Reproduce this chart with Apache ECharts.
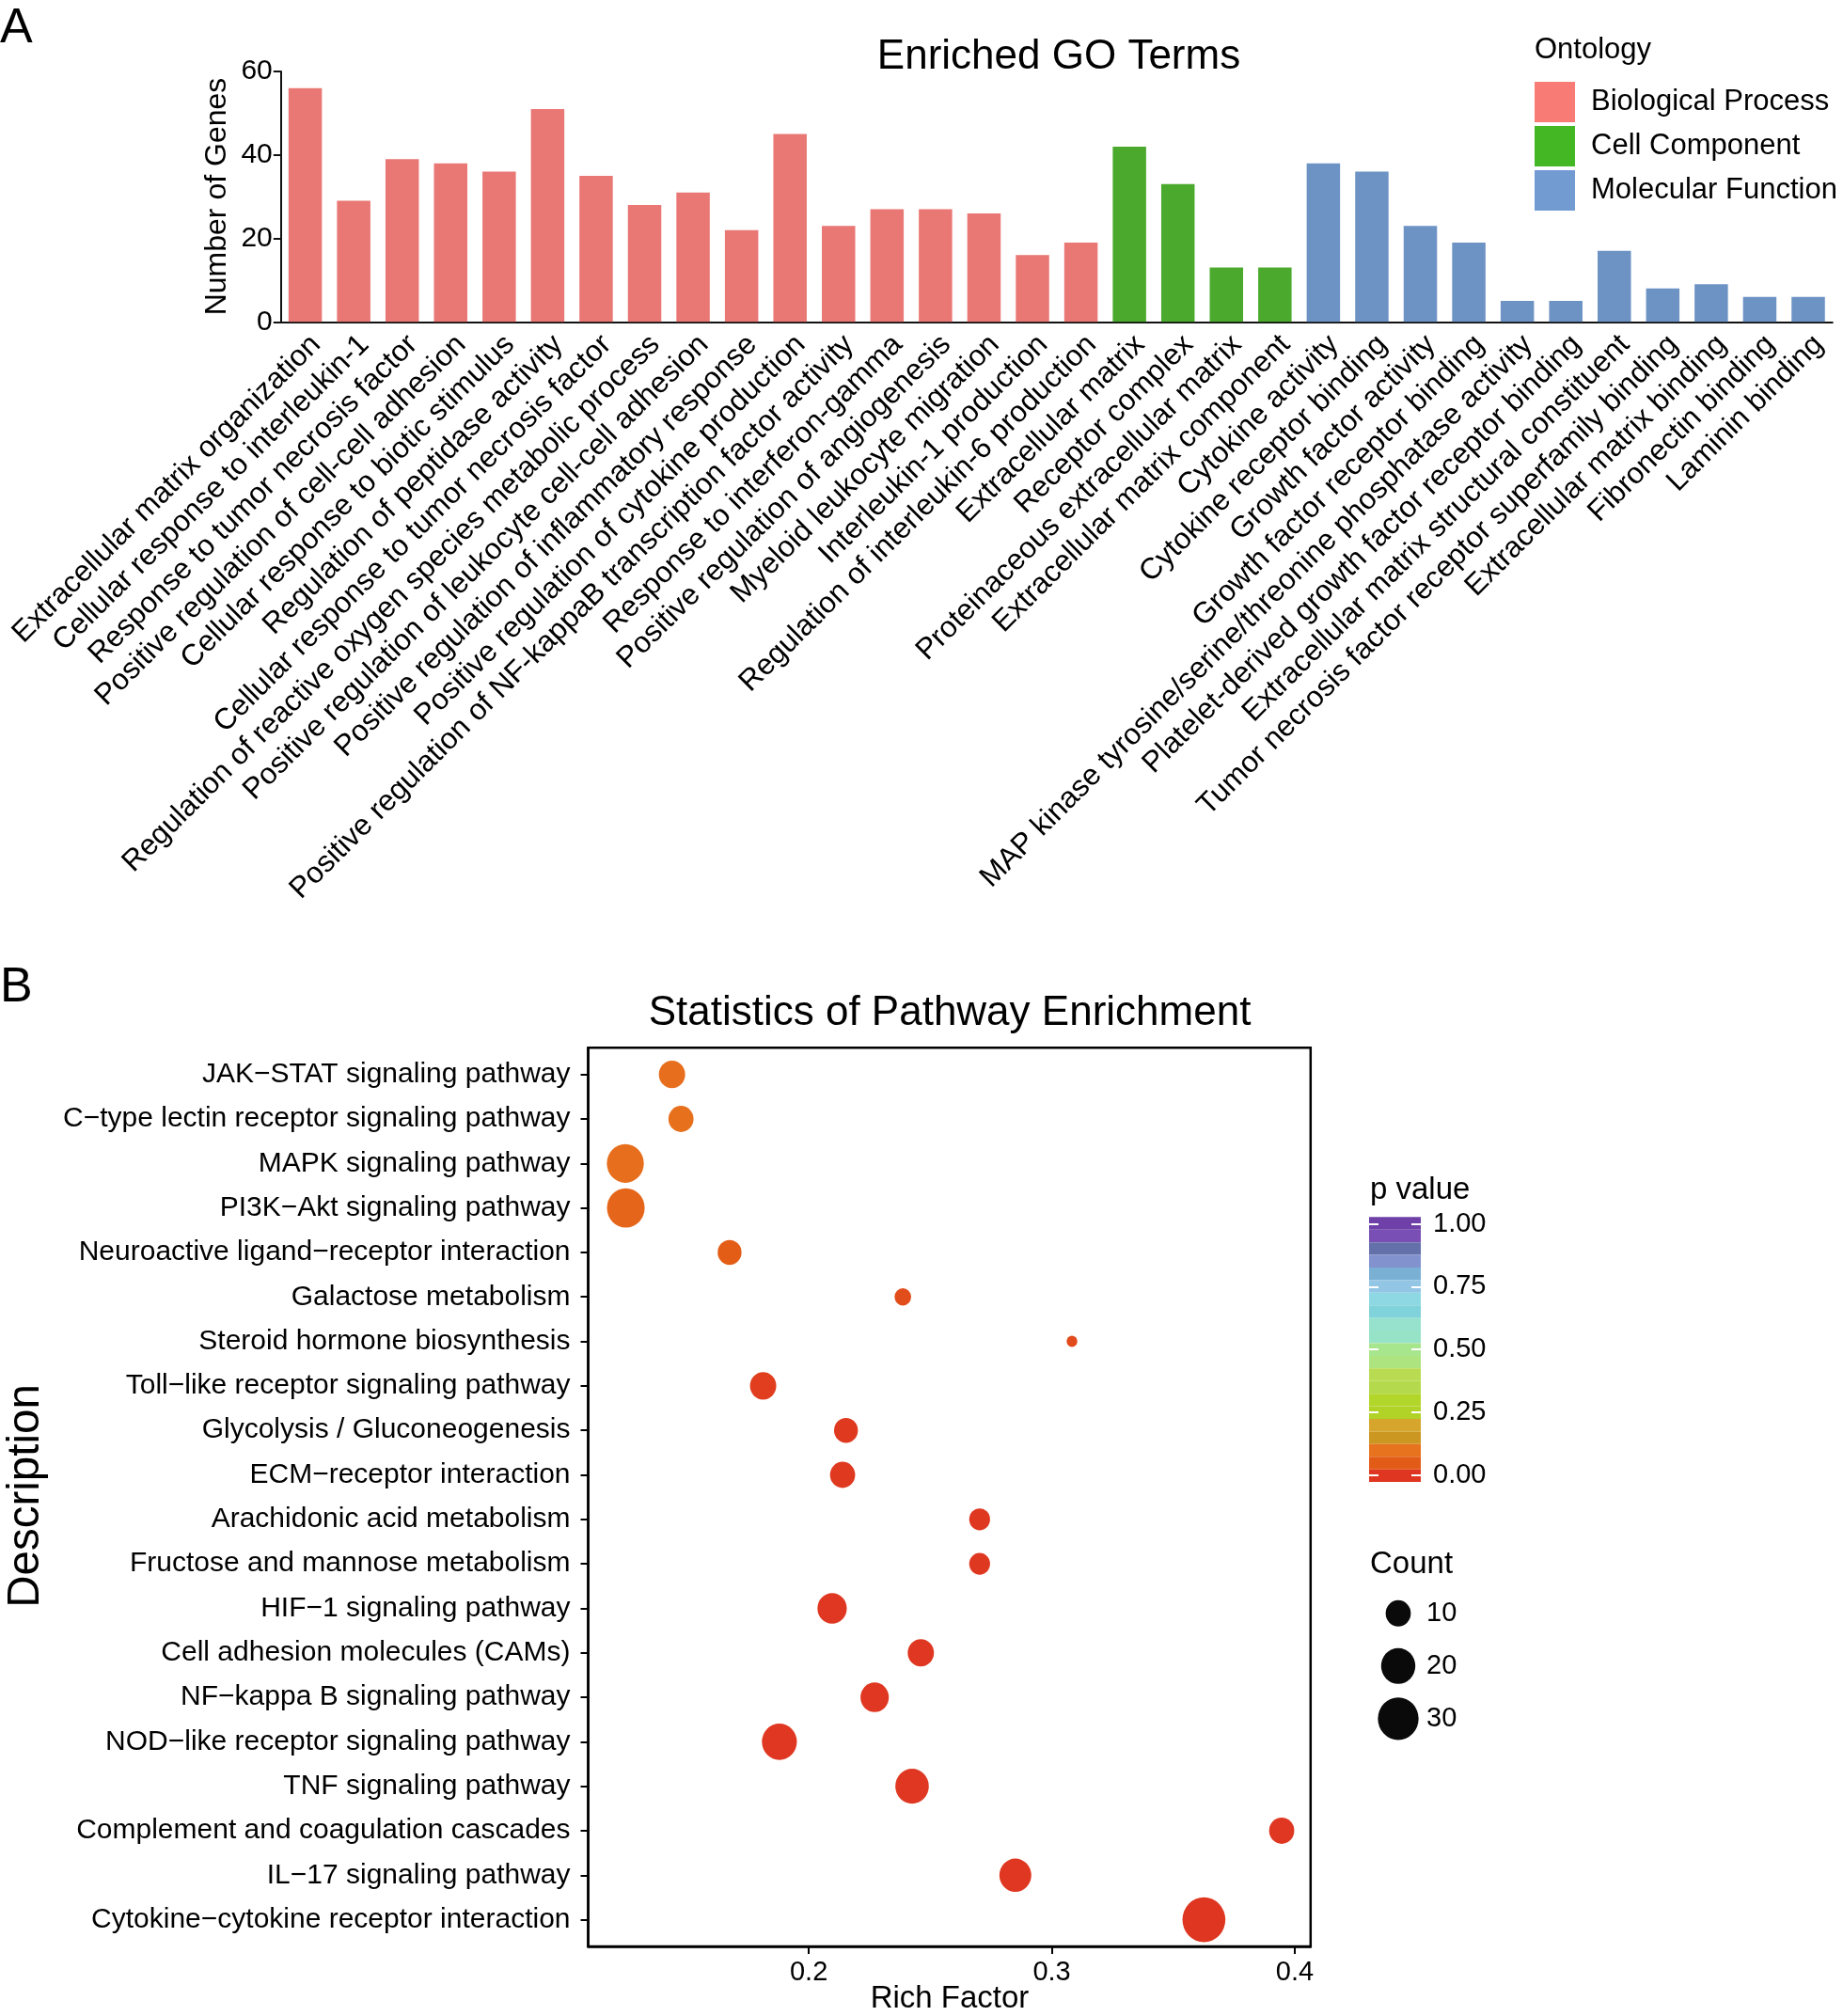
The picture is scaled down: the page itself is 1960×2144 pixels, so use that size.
<!DOCTYPE html>
<html><head><meta charset="utf-8">
<script src="https://cdn.jsdelivr.net/npm/echarts@6/dist/echarts.min.js"></script>
<style>html,body{margin:0;padding:0;background:#fff}#c{width:1960px;height:2144px}</style>
</head><body><div id="c"></div>
<script>
const FONT = '"Liberation Sans", Arial, Helvetica, sans-serif';

// ---------- Panel A data ----------
const bpTerms = ['Extracellular matrix organization','Cellular response to interleukin-1','Response to tumor necrosis factor','Positive regulation of cell-cell adhesion','Cellular response to biotic stimulus','Regulation of peptidase activity','Cellular response to tumor necrosis factor','Regulation of reactive oxygen species metabolic process','Positive regulation of leukocyte cell-cell adhesion','Positive regulation of inflammatory response','Positive regulation of cytokine production','Positive regulation of NF-kappaB transcription factor activity','Response to interferon-gamma','Positive regulation of angiogenesis','Myeloid leukocyte migration','Interleukin-1 production','Regulation of interleukin-6 production'];
const bpCounts = [56,29,39,38,36,51,35,28,31,22,45,23,27,27,26,16,19];
const ccTerms = ['Extracellular matrix','Receptor complex','Proteinaceous extracellular matrix','Extracellular matrix component'];
const ccCounts = [42,33,13,13];
const mfTerms = ['Cytokine activity','Cytokine receptor binding','Growth factor activity','Growth factor receptor binding','MAP kinase tyrosine/serine/threonine phosphatase activity','Platelet-derived growth factor receptor binding','Extracellular matrix structural constituent','Tumor necrosis factor receptor superfamily binding','Extracellular matrix binding','Fibronectin binding','Laminin binding'];
const mfCounts = [38,36,23,19,5,5,17,8,9,6,6];
const goYMax = 60, goYStep = 20;

// ---------- Panel B data ----------
const pathways = ['JAK\u2212STAT signaling pathway','C\u2212type lectin receptor signaling pathway','MAPK signaling pathway','PI3K\u2212Akt signaling pathway','Neuroactive ligand\u2212receptor interaction','Galactose metabolism','Steroid hormone biosynthesis','Toll\u2212like receptor signaling pathway','Glycolysis / Gluconeogenesis','ECM\u2212receptor interaction','Arachidonic acid metabolism','Fructose and mannose metabolism','HIF\u22121 signaling pathway','Cell adhesion molecules (CAMs)','NF\u2212kappa B signaling pathway','NOD\u2212like receptor signaling pathway','TNF signaling pathway','Complement and coagulation cascades','IL\u221217 signaling pathway','Cytokine\u2212cytokine receptor interaction'];
const richFactor = [0.1437,0.1474,0.1245,0.1247,0.1674,0.2387,0.3083,0.1812,0.2153,0.2139,0.2703,0.2703,0.2096,0.2461,0.2271,0.1879,0.2425,0.3946,0.2850,0.3626];
const pValue = [0.090,0.094,0.089,0.071,0.052,0.031,0.027,0.011,0.004,0.004,0.002,0.002,0.001,0.001,0.001,0.001,0.001,0.001,0.001,0.0005];
const geneCount = [11,10,24,25,9,5,4,11,9,10,7,7,14,11,13,21,19,10,17,34];
const richTicks = [0.2,0.3,0.4];
const countLegend = [10,20,30];

// ---------- styles ----------
const barColors = {bp:'#E97774', cc:'#4BAA2E', mf:'#6D93C5'};
const legendColors = {bp:'#F87C75', cc:'#43B724', mf:'#729BD2'};
const pPalette = ['#DF3621','#E35C17','#E8731E','#CB9720','#D6A52C','#B1D226','#B3D62A','#B5D94C','#B8DB52','#AEE480','#A8E68E','#97E3C7','#97E2CC','#80D3DA','#8ED8E3','#93C5E5','#7AB0D4','#8192CF','#6370AA','#7A4FB5','#6E40A8'];
const binW = 1.0555 / pPalette.length, binStart = -0.0278;
const pBins = pPalette.map((c,k)=>({min: binStart + k*binW, max: binStart + (k+1)*binW, color: c}));
function sizeFor(c){ const d = 11.36 + 6.264*Math.sqrt(Math.max(c-4,0)); return [d, d*1.045]; }

const goTerms = bpTerms.concat(ccTerms, mfTerms);
const nBP = bpTerms.length, nCC = ccTerms.length, nMF = mfTerms.length;
const fill = n => Array(n).fill('-');
const bpData = bpCounts.concat(fill(nCC+nMF));
const ccData = fill(nBP).concat(ccCounts, fill(nMF));
const mfData = fill(nBP+nCC).concat(mfCounts);
const scatterData = pathways.map((p,i)=>[richFactor[i], i, pValue[i], geneCount[i]]);
const rowIdx = pathways.map((_,i)=>i);

const txt = (text, x, y, size, align, rot) => ({
  type:'text', x: rot ? x + size*0.08 : x, y: rot ? y : y + size*0.08, rotation: rot||0, silent:true,
  style:{text:text, fill:'#000', font: size+'px '+FONT, textAlign:align||'center', textVerticalAlign:'middle', align:align||'center', verticalAlign:'middle'}
});

const chart = echarts.init(document.getElementById('c'), null, {renderer:'canvas'});
const axisBlack = {onZero:false, lineStyle:{color:'#111', width:2}};
chart.setOption({
  animation:false,
  backgroundColor:'#fff',
  textStyle:{fontFamily:FONT},
  grid:[
    {left:298.8, top:76, width:1650, height:266.3, containLabel:false},
    {left:625.5, top:1114.3, width:768.3, height:955.7, show:true, borderColor:'#000', borderWidth:2.5},
    {left:1456, top:1301.7, width:55, height:267},
    {left:1460, top:1687.8, width:54, height:168}
  ],
  legend:{
    orient:'vertical', left:1632, top:87, itemWidth:43, itemHeight:43, itemGap:4, padding:0,
    icon:'rect', selectedMode:false,
    textStyle:{fontSize:31, fontFamily:FONT, color:'#000', padding:[0,0,0,12]},
    data:[
      {name:'Biological Process', itemStyle:{color:legendColors.bp}},
      {name:'Cell Component', itemStyle:{color:legendColors.cc}},
      {name:'Molecular Function', itemStyle:{color:legendColors.mf}}
    ]
  },
  xAxis:[
    {gridIndex:0, type:'category', data:goTerms,
      axisLine:axisBlack, axisTick:{alignWithLabel:true, length:8, lineStyle:{color:'#111', width:2}},
      axisLabel:{interval:0, rotate:45, fontSize:31.5, color:'#000', fontFamily:FONT, margin:8, verticalAlign:'top', hideOverlap:false}},
    {gridIndex:1, type:'value', min:0.1092, max:0.4065,
      axisLine:{show:true, onZero:false, lineStyle:{color:'#000', width:2.5}},
      axisTick:{show:true, customValues:richTicks, length:8, lineStyle:{color:'#000', width:2}},
      axisLabel:{customValues:richTicks, fontSize:29, color:'#000', fontFamily:FONT, margin:13, formatter:v=>String(v)},
      splitLine:{show:false}},
    {gridIndex:2, type:'category', data:[''], show:false},
    {gridIndex:3, type:'value', min:0, max:1, show:false}
  ],
  yAxis:[
    {gridIndex:0, type:'value', min:0, max:goYMax, interval:goYStep,
      axisLine:{show:true, onZero:false, lineStyle:{color:'#111', width:2}},
      axisTick:{show:true, length:8, lineStyle:{color:'#111', width:2}},
      axisLabel:{fontSize:30, color:'#000', fontFamily:FONT, margin:9},
      splitLine:{show:false}},
    {gridIndex:1, type:'value', inverse:true, min:-0.6, max:pathways.length-0.4,
      axisLine:{show:true, onZero:false, lineStyle:{color:'#000', width:2.5}},
      axisTick:{show:true, customValues:rowIdx, length:8, lineStyle:{color:'#000', width:2}},
      axisLabel:{customValues:rowIdx, fontSize:30, color:'#000', fontFamily:FONT, margin:19, formatter:v=>pathways[v]},
      splitLine:{show:false}},
    {gridIndex:2, type:'value', min:0, max:1, interval:0.25, position:'left', z:10,
      axisLine:{show:false, onZero:false}, axisLabel:{show:false}, splitLine:{show:false},
      axisTick:{show:true, inside:true, length:10, lineStyle:{color:'#fff', width:2}}},
    {gridIndex:2, type:'value', min:0, max:1, interval:0.25, position:'right', z:10,
      axisLine:{show:false, onZero:false}, splitLine:{show:false},
      axisTick:{show:true, inside:true, length:10, lineStyle:{color:'#fff', width:2}},
      axisLabel:{fontSize:29, color:'#000', fontFamily:FONT, margin:13, formatter:v=>v.toFixed(2)}},
    {gridIndex:3, type:'category', inverse:true, data:countLegend.map(String), position:'right',
      axisLine:{show:false, onZero:false}, axisTick:{show:false},
      axisLabel:{fontSize:29, color:'#000', fontFamily:FONT, margin:3}}
  ],
  visualMap:[
    {type:'continuous', show:false, min:0, max:1, dimension:2, seriesIndex:3,
      inRange:{color:pPalette}},
    {type:'piecewise', seriesIndex:[], dimension:2, orient:'vertical',
      left:1456, top:1294.3, padding:0, itemWidth:55, itemHeight:281.8/pPalette.length, itemGap:0,
      itemSymbol:'rect', showLabel:false, selectedMode:false, hoverLink:false,
      pieces:pBins}
  ],
  series:[
    {name:'Biological Process', type:'bar', xAxisIndex:0, yAxisIndex:0, data:bpData, barWidth:35.5, barGap:'-100%', itemStyle:{color:barColors.bp}},
    {name:'Cell Component', type:'bar', xAxisIndex:0, yAxisIndex:0, data:ccData, barWidth:35.5, barGap:'-100%', itemStyle:{color:barColors.cc}},
    {name:'Molecular Function', type:'bar', xAxisIndex:0, yAxisIndex:0, data:mfData, barWidth:35.5, barGap:'-100%', itemStyle:{color:barColors.mf}},
    {name:'pathways', type:'scatter', xAxisIndex:1, yAxisIndex:1, data:scatterData, symbol:'circle',
      symbolSize:v=>sizeFor(v[3]), itemStyle:{opacity:1}},
    {name:'countLegend', type:'scatter', xAxisIndex:3, yAxisIndex:4,
      data:countLegend.map((c,i)=>[0.5, i, c]), symbol:'circle', symbolSize:v=>sizeFor(v[2]),
      itemStyle:{color:'#0A0A0A', opacity:1}}
  ],
  graphic:[
    txt('A', 0, 26.7, 52, 'left'),
    txt('B', 0, 1046.5, 52, 'left'),
    txt('Enriched GO Terms', 1126, 57, 44, 'center'),
    txt('Ontology', 1632, 51, 31, 'left'),
    txt('Number of Genes', 229, 209, 32, 'center', Math.PI/2),
    txt('Statistics of Pathway Enrichment', 1010, 1074, 44, 'center'),
    txt('Description', 24, 1591, 47.5, 'center', Math.PI/2),
    txt('Rich Factor', 1010, 2123, 33, 'center'),
    txt('p value', 1457, 1263, 33, 'left'),
    txt('Count', 1457, 1661, 33, 'left')
  ]
});
</script></body></html>
